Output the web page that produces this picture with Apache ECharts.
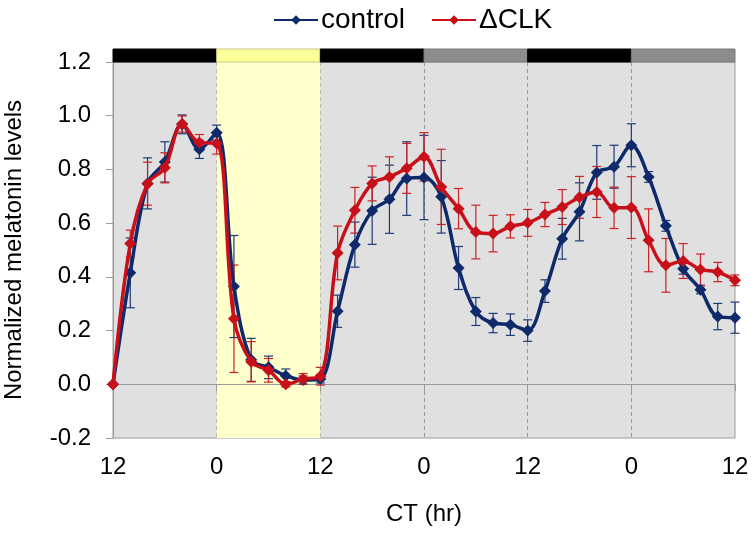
<!DOCTYPE html>
<html>
<head>
<meta charset="utf-8">
<script src="https://cdn.jsdelivr.net/npm/echarts@6/dist/echarts.min.js"></script>
<style>html,body{margin:0;padding:0;background:#fff}#c{width:754px;height:536px}</style>
</head>
<body>
<div id="c"></div>
<script>
// ---- data ----
const hours = [0,2,4,6,8,10,12,14,16,18,20,22,24,26,28,30,32,34,36,38,40,42,44,46,48,50,52,54,56,58,60,62,64,66,68,70,72];
const controlMean = [0,0.415,0.748,0.828,0.968,0.875,0.937,0.364,0.091,0.063,0.032,0.016,0.02,0.272,0.52,0.646,0.689,0.766,0.77,0.698,0.433,0.271,0.228,0.222,0.2,0.347,0.542,0.642,0.789,0.81,0.89,0.772,0.59,0.43,0.352,0.252,0.248];
const controlErr  = [0,0.13,0.095,0.075,0.035,0.034,0.028,0.19,0.08,0.042,0.025,0.015,0.015,0.06,0.084,0.125,0.127,0.137,0.157,0.135,0.08,0.052,0.036,0.04,0.04,0.042,0.076,0.108,0.1,0.08,0.08,0.02,0.02,0.02,0.015,0.049,0.058];
const clkMean = [0,0.524,0.747,0.806,0.969,0.9,0.897,0.244,0.084,0.052,0.0,0.02,0.03,0.489,0.648,0.748,0.772,0.804,0.847,0.735,0.654,0.567,0.561,0.588,0.601,0.632,0.66,0.696,0.716,0.657,0.658,0.536,0.443,0.459,0.427,0.418,0.387];
const clkErr  = [0,0.05,0.08,0.056,0.03,0.03,0.04,0.2,0.075,0.044,0.01,0.02,0.033,0.1,0.085,0.065,0.075,0.093,0.09,0.14,0.075,0.1,0.068,0.043,0.05,0.045,0.065,0.078,0.095,0.077,0.115,0.117,0.1,0.065,0.058,0.036,0.02];
const xTickLabels = ['12','0','12','0','12','0','12'];
const phaseStart = [0,12,24,36,48,60];
const phaseEnd   = [12,24,36,48,60,72];
const phaseType  = ['dark','light','dark','subjective','dark','subjective'];
const seriesNames = ['control','\u0394CLK'];

// ---- styles ----
const FONT = "'Liberation Sans', Arial, sans-serif";
const C_BLUE = '#0e2a6a';
const C_RED = '#c8101a';
const barFill = {dark:'#000000', light:'#ffff99', subjective:'#8c8c8c'};
const barStroke = {dark:'#000000', light:'#c9c98a', subjective:'#7a7a7a'};
const Y_MAX = 1.2;

const phaseData = phaseStart.map((s,i)=>[s, phaseEnd[i], i]);

function errData(mean, err){
  return hours.map((h,i)=>[h, mean[i]-err[i], mean[i]+err[i]]);
}
function errRender(color){
  return function(params, api){
    const x = api.value(0);
    const lo = api.coord([x, api.value(1)]);
    const hi = api.coord([x, api.value(2)]);
    if (Math.abs(hi[1]-lo[1]) < 1) return null;
    const w = 4.5;
    const st = {stroke: color, lineWidth: 1.2};
    return {type:'group', children:[
      {type:'line', shape:{x1:lo[0],y1:lo[1],x2:hi[0],y2:hi[1]}, style:st},
      {type:'line', shape:{x1:lo[0]-w,y1:lo[1],x2:lo[0]+w,y2:lo[1]}, style:st},
      {type:'line', shape:{x1:hi[0]-w,y1:hi[1],x2:hi[0]+w,y2:hi[1]}, style:st}
    ]};
  };
}

const chart = echarts.init(document.getElementById('c'), null, {renderer:'canvas'});
chart.setOption({
  animation:false,
  textStyle:{fontFamily:FONT},
  legend:{
    data: seriesNames,
    left: 268, top: 1,
    itemWidth: 44, itemHeight: 12, itemGap: 26,
    textStyle:{fontFamily:FONT, fontSize:28, color:'#000', padding:[0,0,0,-2]}
  },
  grid:{left:113, right:19, top:62, bottom:98, show:true, backgroundColor:'#e0e0e0', borderColor:'#9a9a9a', borderWidth:1, containLabel:false, outerBoundsMode:'none'},
  xAxis:{
    type:'value', min:0, max:72, interval:12,
    name:'CT (hr)', nameLocation:'middle', nameGap:64,
    nameTextStyle:{fontFamily:FONT, fontSize:24, color:'#000'},
    axisLine:{lineStyle:{color:'#9a9a9a'}},
    axisTick:{show:true, length:7, lineStyle:{color:'#9a9a9a'}},
    axisLabel:{fontFamily:FONT, fontSize:24, color:'#000', margin:17,
      formatter:(v)=>xTickLabels[Math.round(v/12)]},
    splitLine:{show:true, showMinLine:false, showMaxLine:false, lineStyle:{color:'#9a9a9a', type:[4,3], width:1}}
  },
  yAxis:{
    type:'value', min:-0.2, max:Y_MAX, interval:0.2,
    name:'Normalized melatonin levels', nameLocation:'middle', nameGap:87,
    nameTextStyle:{fontFamily:FONT, fontSize:24, color:'#000'},
    axisLine:{show:true, lineStyle:{color:'#9a9a9a'}},
    axisTick:{show:true, length:7, lineStyle:{color:'#9a9a9a'}},
    axisLabel:{fontFamily:FONT, fontSize:24, color:'#000', margin:22,
      formatter:(v)=>v.toFixed(1)},
    splitLine:{show:false}
  },
  series:[
    {
      type:'custom', name:'bands', silent:true, z:0, clip:true,
      data: phaseData,
      encode:{x:[0,1]},
      renderItem:function(params, api){
        const t = phaseType[api.value(2)];
        if (t !== 'light') return null;
        const a = api.coord([api.value(0), Y_MAX]);
        const b = api.coord([api.value(1), -0.2]);
        return {type:'rect', shape:{x:a[0], y:a[1], width:b[0]-a[0], height:b[1]-a[1]}, style:{fill:'#ffffcc'}};
      }
    },
    {
      type:'custom', name:'lightbar', silent:true, z:5, clip:false,
      data: phaseData,
      encode:{x:[0,1]},
      renderItem:function(params, api){
        const t = phaseType[api.value(2)];
        const a = api.coord([api.value(0), Y_MAX]);
        const b = api.coord([api.value(1), Y_MAX]);
        return {type:'rect', shape:{x:a[0], y:a[1]-13, width:b[0]-a[0], height:13},
          style:{fill:barFill[t], stroke:barStroke[t], lineWidth:1}};
      }
    },
    {
      type:'custom', name:'controlErr', silent:true, z:2, clip:false,
      data: errData(controlMean, controlErr),
      encode:{x:0, y:[1,2]},
      renderItem: errRender('#1d3a78')
    },
    {
      type:'line', name:seriesNames[0], data: hours.map((h,i)=>[h, controlMean[i]]),
      smooth:0.35, symbol:'diamond', symbolSize:12, z:3,
      lineStyle:{color:C_BLUE, width:3.5}, itemStyle:{color:C_BLUE}
    },
    {
      type:'custom', name:'clkErr', silent:true, z:2, clip:false,
      data: errData(clkMean, clkErr),
      encode:{x:0, y:[1,2]},
      renderItem: errRender('#cc2222')
    },
    {
      type:'line', name:seriesNames[1], data: hours.map((h,i)=>[h, clkMean[i]]),
      smooth:0.35, symbol:'diamond', symbolSize:12, z:4,
      lineStyle:{color:C_RED, width:3.5}, itemStyle:{color:C_RED}
    }
  ]
});
</script>
</body>
</html>
